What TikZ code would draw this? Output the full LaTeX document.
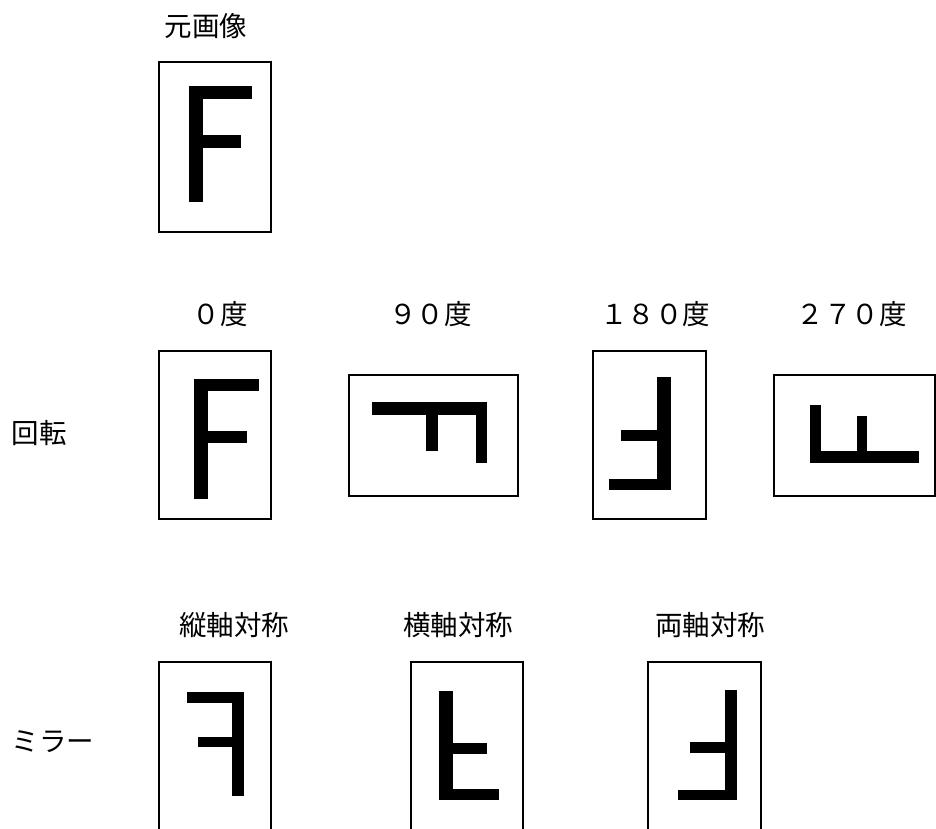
\documentclass[tikz,border=0pt]{standalone}
\usepackage{fontspec}
\setmainfont{Noto Sans CJK JP}
\begin{document}
\begin{tikzpicture}[x=1pt,y=-1pt,
  frame/.style={draw=black,line width=1.3pt},
  bar/.style={fill=black},
  lbl/.style={inner sep=0pt,font=\fontsize{27.5}{33}\selectfont}]
\useasboundingbox (0,0) rectangle (936,829);
\clip (0,0) rectangle (936,829);
% labels
\node[lbl] (orig) at (206,26) {元画像};
\node[lbl] (r0) at (220,314) {０度};
\node[lbl] (r90) at (430.5,314) {９０度};
\node[lbl] (r180) at (655,314) {１８０度};
\node[lbl] (r270) at (851.5,314) {２７０度};
\node[lbl] (rot) at (39,433) {回転};
\node[lbl] (mv) at (234,625) {縦軸対称};
\node[lbl] (mh) at (458,625) {横軸対称};
\node[lbl] (mb) at (710,625) {両軸対称};
\node[lbl] (mir) at (53,742) {ミラー};
% original
\draw[frame] (159,62) rectangle (271,232);
\fill[bar] (189,86) rectangle (203,202);
\fill[bar] (189,86) rectangle (252,99);
\fill[bar] (189,135) rectangle (241,148);
% 0 deg
\draw[frame] (159,351) rectangle (271,519);
\fill[bar] (194,379) rectangle (208,499);
\fill[bar] (194,379) rectangle (259,391);
\fill[bar] (194,431) rectangle (247,443);
% 90 deg
\draw[frame] (349,375) rectangle (518,496);
\fill[bar] (372,402) rectangle (487,415);
\fill[bar] (476,402) rectangle (487,463);
\fill[bar] (426,402) rectangle (438,451);
% 180 deg
\draw[frame] (593,351) rectangle (706,519);
\fill[bar] (657,377) rectangle (671,490);
\fill[bar] (609,479) rectangle (671,490);
\fill[bar] (621,430) rectangle (657,441);
% 270 deg
\draw[frame] (774,375) rectangle (935,496);
\fill[bar] (810,451) rectangle (919,463);
\fill[bar] (810,405) rectangle (821,463);
\fill[bar] (857,416) rectangle (867,451);
% vertical-axis mirror
\draw[frame] (159,662) rectangle (271,832);
\fill[bar] (187,692) rectangle (244,703);
\fill[bar] (232,692) rectangle (244,796);
\fill[bar] (198,737) rectangle (232,747);
% horizontal-axis mirror
\draw[frame] (411,662) rectangle (523,832);
\fill[bar] (439,691) rectangle (453,800);
\fill[bar] (439,789) rectangle (499,800);
\fill[bar] (452,743) rectangle (487,754);
% both axes
\draw[frame] (648,662) rectangle (761,832);
\fill[bar] (725,690) rectangle (737,800);
\fill[bar] (678,790) rectangle (737,800);
\fill[bar] (690,742) rectangle (725,753);
\end{tikzpicture}
\end{document}
